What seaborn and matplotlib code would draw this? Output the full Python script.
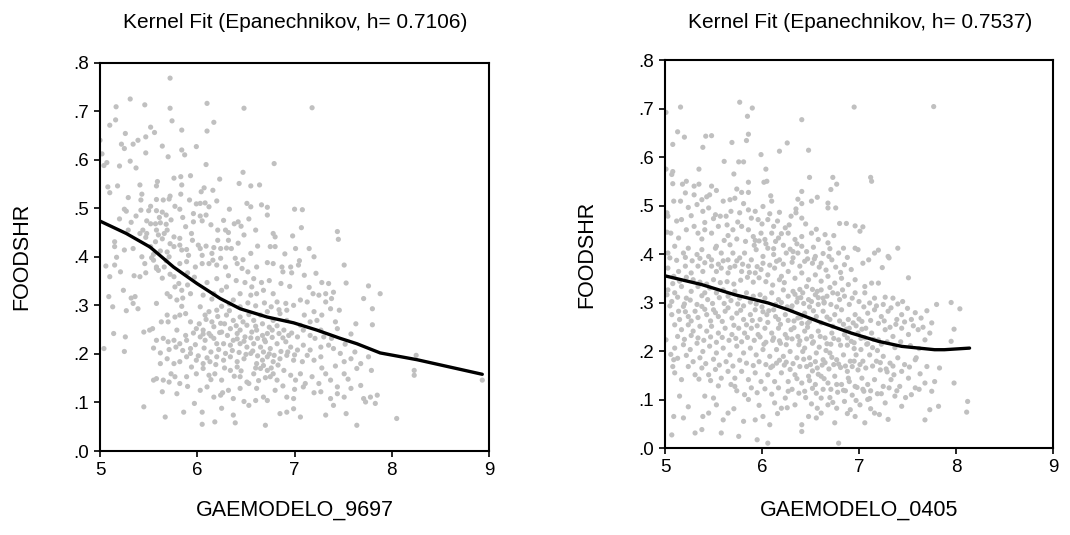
import numpy as np
import pandas as pd
import seaborn as sns
import matplotlib
matplotlib.use("Agg")
import matplotlib.pyplot as plt
from matplotlib.ticker import FuncFormatter

sns.set_style("ticks")
plt.rcParams['font.family'] = ['Liberation Sans', 'DejaVu Sans']
plt.rcParams['text.color'] = 'black'
plt.rcParams['axes.labelcolor'] = 'black'
plt.rcParams['xtick.color'] = 'black'
plt.rcParams['ytick.color'] = 'black'

# --- data ---
titles = ["Kernel Fit (Epanechnikov, h= 0.7106)", "Kernel Fit (Epanechnikov, h= 0.7537)"]
x_labels = ["GAEMODELO_9697", "GAEMODELO_0405"]
y_label = "FOODSHR"
x_ticks = [5, 6, 7, 8, 9]
y_ticks = [0.0, 0.1, 0.2, 0.3, 0.4, 0.5, 0.6, 0.7, 0.8]

# 1996-97 scatter (gaemodelo, foodshr)
pts_9697 = [
    (5.72, .768), (5.31, .725), (5.46, .713), (5.165, .709), (5.72, .706), (6.10, .716), (6.48, .706),
    (7.18, .707), (5.10, .671), (5.16, .682), (5.74, .680), (6.17, .677), (5.52, .667), (5.56, .656),
    (5.26, .654), (5.84, .661), (6.10, .659), (5.0, .64), (5.47, .647), (5.39, .64), (5.34, .632),
    (5.22, .632), (5.64, .628), (5.25, .623), (5.99, .627), (5.47, .614), (5.84, .62), (5.87, .61),
    (5.02, .612), (5.70, .606), (5.31, .597), (5.07, .594), (5.04, .588), (5.2, .587), (5.37, .583),
    (6.09, .59), (6.79, .592), (5.93, .567), (6.47, .574), (6.23, .56), (5.76, .562), (5.83, .565),
    (5.84, .548), (5.59, .555), (5.58, .546), (5.41, .548), (5.18, .546), (5.08, .544), (5.10, .532),
    (6.07, .542), (6.04, .534), (6.16, .537), (6.43, .551), (6.55, .546), (6.64, .548), (5.83, .529),
    (5.29, .522), (5.43, .529), (5.42, .517), (5.58, .518), (5.65, .517), (5.72, .525), (5.71, .519),
    (5.92, .517), (5.99, .509), (6.03, .51), (6.08, .511), (6.12, .503), (6.20, .515), (6.51, .51),
    (6.55, .503), (6.66, .507), (6.72, .502), (5.25, .498), (5.27, .494), (5.52, .504), (5.58, .495),
    (5.77, .504), (5.82, .498), (5.96, .489), (6.33, .498), (7.0, .498), (7.08, .497), (5.50, .495),
    (5.42, .496), (5.37, .484), (5.48, .474), (5.61, .481), (5.68, .486), (5.85, .481), (6.03, .484),
    (6.09, .486), (6.05, .474), (6.42, .472), (6.45, .463), (6.60, .455), (6.72, .486), (7.07, .46),
    (5.57, .468), (5.62, .47), (5.69, .455), (5.66, .448), (5.60, .445), (5.58, .455), (5.48, .448),
    (5.47, .44), (5.41, .448), (5.29, .455), (5.15, .431), (5.76, .441), (5.82, .438), (5.94, .448),
    (5.95, .434), (6.01, .424), (6.03, .417), (6.21, .455), (6.29, .455), (6.32, .45), (6.21, .434),
    (6.32, .434), (6.48, .445), (6.78, .448), (6.80, .441), (6.98, .443), (7.44, .452), (7.45, .436),
    (5.76, .421), (5.82, .424), (5.84, .414), (5.89, .415), (6.09, .422), (6.17, .419), (6.24, .417),
    (6.35, .417), (6.62, .422), (6.75, .421), (6.80, .421), (7.01, .417), (7.15, .417), (5.34, .417),
    (5.25, .414), (5.15, .421), (5.69, .41), (5.71, .4), (5.91, .403), (6.05, .403), (6.15, .407),
    (6.16, .393), (6.24, .397), (6.39, .397), (6.55, .407), (6.47, .394), (7.20, .4), (5.53, .398),
    (5.43, .4), (5.17, .399), (5.06, .381), (5.10, .359), (5.21, .369), (5.15, .383), (5.35, .361),
    (5.41, .359), (5.47, .367), (5.46, .386), (5.55, .393), (5.58, .379), (5.66, .379), (5.58, .376),
    (5.82, .386), (5.89, .39), (5.98, .379), (6.05, .386), (6.12, .386), (6.20, .383), (6.29, .379),
    (6.41, .386), (6.46, .376), (6.52, .369), (6.61, .379), (6.72, .388), (6.78, .386), (6.87, .379),
    (6.96, .379), (7.04, .383), (6.88, .369), (6.97, .367), (7.51, .383), (7.22, .366), (7.35, .345),
    (7.53, .346), (7.76, .34), (7.88, .324), (7.71, .314), (7.80, .293), (7.80, .26), (5.24, .331),
    (5.32, .315), (5.36, .318), (5.34, .304), (5.39, .293), (5.27, .289), (5.09, .318), (5.13, .297),
    (5.58, .304), (5.69, .324), (5.72, .318), (5.77, .338), (5.79, .311), (5.76, .359), (5.81, .345),
    (5.84, .331), (5.90, .342), (5.93, .324), (5.85, .315), (5.84, .298), (5.88, .283), (5.69, .28),
    (5.63, .266), (5.70, .266), (5.77, .276), (5.79, .249), (5.82, .28), (5.93, .266), (6.03, .297),
    (6.12, .287), (6.08, .28), (6.17, .324), (6.25, .331), (6.30, .338), (6.37, .311), (6.44, .324),
    (6.55, .321), (6.61, .324), (6.56, .338), (6.68, .331), (6.78, .324), (6.82, .307), (6.91, .304),
    (6.99, .3), (7.06, .311), (7.13, .307), (7.19, .324), (7.25, .321), (7.32, .324), (7.38, .314),
    (7.32, .307), (7.20, .287), (7.37, .293), (7.42, .266), (7.44, .252), (6.20, .29), (6.30, .28),
    (6.37, .269), (6.44, .276), (6.51, .259), (6.58, .269), (6.65, .28), (6.72, .287), (6.78, .269),
    (6.85, .283), (6.92, .29), (6.92, .269), (7.06, .259), (7.16, .266), (7.23, .269), (7.27, .249),
    (5.99, .252), (6.06, .249), (6.12, .242), (6.17, .256), (6.24, .263), (6.25, .245), (6.34, .252),
    (6.41, .242), (6.44, .249), (6.49, .235), (6.56, .245), (6.61, .249), (6.67, .238), (6.72, .242),
    (6.77, .249), (6.84, .242), (6.89, .249), (6.94, .238), (7.03, .235), (7.09, .249), (7.16, .238),
    (7.21, .232), (7.30, .235), (5.45, .245), (5.51, .249), (5.54, .252), (5.14, .242), (5.26, .235),
    (5.04, .211), (5.25, .205), (5.58, .228), (5.65, .232), (5.70, .225), (5.76, .228), (5.82, .221),
    (5.89, .228), (5.93, .211), (6.03, .235), (6.08, .228), (6.17, .232), (6.20, .221), (6.27, .221),
    (6.34, .218), (6.37, .228), (6.44, .221), (6.51, .214), (6.58, .221), (6.65, .214), (6.70, .225),
    (6.75, .211), (6.82, .221), (6.91, .225), (6.96, .214), (7.03, .208), (7.09, .218), (7.16, .208),
    (7.27, .214), (7.35, .218), (7.40, .211), (7.47, .201), (7.58, .19), (7.68, .18), (7.76, .194),
    (7.51, .184), (7.27, .194), (7.20, .187), (7.13, .197), (7.08, .184), (6.99, .187), (6.92, .197),
    (6.85, .19), (6.78, .184), (6.72, .194), (6.67, .187), (6.61, .18), (6.55, .201), (6.48, .19),
    (6.41, .184), (6.34, .194), (6.27, .187), (6.20, .194), (6.13, .184), (6.06, .18), (5.99, .187),
    (5.89, .194), (5.82, .184), (5.76, .18), (5.69, .19), (5.62, .18), (5.55, .146), (5.58, .149),
    (5.65, .146), (5.73, .159), (5.77, .153), (5.82, .139), (5.89, .153), (5.94, .173), (5.99, .159),
    (6.06, .17), (6.12, .156), (6.18, .159), (6.25, .146), (6.34, .166), (6.41, .173), (6.44, .153),
    (6.51, .142), (6.58, .159), (6.65, .17), (6.72, .166), (6.75, .153), (6.78, .159), (6.82, .146),
    (6.89, .166), (6.96, .156), (7.01, .146), (7.06, .159), (7.11, .139), (7.18, .153), (7.25, .139),
    (7.32, .159), (7.37, .146), (7.44, .132), (7.51, .159), (7.58, .129), (7.64, .17), (7.68, .135),
    (7.79, .166), (8.23, .166), (8.25, .197), (8.23, .156), (8.93, .146), (5.64, .122), (5.79, .118),
    (6.03, .125), (6.10, .132), (6.17, .111), (6.24, .115), (6.32, .125), (6.37, .108), (6.44, .129),
    (6.53, .139), (6.61, .129), (6.68, .111), (6.72, .104), (6.92, .111), (6.99, .108), (7.09, .132),
    (7.27, .122), (7.37, .108), (7.40, .094), (7.44, .118), (7.51, .111), (7.71, .108), (7.73, .101),
    (7.78, .111), (7.85, .115), (7.83, .098), (5.45, .091), (5.67, .07), (5.86, .08), (6.05, .08),
    (6.05, .055), (6.18, .06), (6.37, .074), (6.39, .058), (6.53, .094), (6.60, .104), (6.70, .053),
    (6.85, .077), (6.92, .08), (6.99, .087), (7.06, .07), (7.32, .074), (7.53, .077), (7.64, .053),
    (8.05, .067), (6.80, .125),
    # denser middle of the cloud
    (6.02, .262), (6.09, .271), (6.15, .266), (6.21, .277), (6.28, .262), (6.33, .289), (6.4, .258),
    (6.47, .266), (6.53, .281), (6.6, .257), (6.67, .262), (6.74, .255), (6.82, .258), (6.88, .233),
    (6.97, .243), (6.55, .233), (6.48, .226), (6.41, .231), (6.31, .238), (6.23, .244), (6.14, .237),
    (6.06, .241), (5.96, .243), (5.88, .238), (6.62, .232), (6.69, .229), (6.77, .234), (6.57, .206),
    (6.5, .199), (6.43, .203), (6.36, .207), (6.29, .201), (6.22, .209), (6.14, .204), (6.07, .212),
    (5.98, .219), (6.62, .196), (6.68, .204), (6.74, .2), (6.79, .197), (6.86, .205), (6.93, .204),
    (7.0, .198), (6.6, .171), (6.68, .176), (6.76, .171), (6.83, .177), (6.7, .151), (6.63, .145),
    (6.45, .165), (6.38, .154), (6.28, .171), (6.19, .178), (6.1, .192), (6.01, .196), (5.93, .201),
    (5.85, .207), (5.78, .214), (5.71, .209), (5.62, .202), (5.55, .212), (6.25, .298), (6.33, .303),
    (6.44, .297), (6.52, .305), (6.6, .299), (6.69, .305), (6.76, .297), (6.84, .291), (6.15, .313),
    (6.06, .321), (6.1, .347), (6.2, .355), (6.32, .361), (6.4, .351), (6.49, .347), (6.58, .355),
    (6.66, .347), (6.74, .351), (6.86, .345), (6.95, .339), (5.97, .358), (5.9, .367), (5.72, .364),
    (5.64, .356), (5.6, .372), (5.68, .392), (5.62, .412), (5.52, .421), (5.57, .431), (5.64, .437),
    (5.72, .427), (5.55, .405), (5.68, .467), (5.73, .476), (5.64, .492), (5.52, .468), (5.44, .455),
    (5.32, .471), (5.2, .478), (5.88, .462), (5.96, .472), (6.14, .466), (6.27, .475), (6.38, .468),
    (6.53, .478), (6.3, .418), (6.42, .428), (6.9, .406), (7.05, .392), (7.1, .362), (7.28, .347),
    (7.15, .337), (7.4, .327), (7.1, .28), (7.28, .28), (7.46, .29), (7.58, .241), (7.63, .262),
    (7.38, .232), (7.52, .22), (7.62, .204), (7.28, .171), (7.42, .175), (7.55, .148), (7.2, .12),
    (7.0, .127), (6.88, .134), (6.26, .12), (6.14, .147), (5.9, .133), (5.71, .142), (5.97, .098),
    (6.48, .102), (6.25, .088),
]

# 2004-05 scatter (gaemodelo, foodshr)
pts_0405 = [
    (5.77, .713), (5.90, .701), (5.16, .703), (5.01, .692), (5.85, .684), (6.95, .703), (7.77, .704),
    (6.41, .677), (5.13, .652), (5.20, .641), (5.42, .643), (5.48, .644), (5.86, .647), (5.84, .634),
    (5.08, .626), (5.39, .62), (6.26, .629), (6.18, .612), (6.48, .614), (5.69, .63), (5.99, .605),
    (5.61, .591), (5.76, .59), (5.81, .59), (5.01, .575), (5.35, .575), (6.04, .575), (5.71, .565),
    (5.07, .564), (5.08, .57), (6.49, .558), (7.12, .558), (7.13, .55), (6.02, .548), (6.05, .55),
    (6.73, .558), (5.86, .548), (5.08, .545), (5.18, .544), (5.22, .55), (5.30, .54), (5.35, .544),
    (5.48, .54), (5.53, .531), (5.74, .534), (5.79, .527), (5.86, .527), (6.77, .544), (6.71, .533),
    (6.41, .529), (6.57, .517), (6.68, .505), (6.68, .495), (6.76, .495), (6.51, .509), (6.37, .513),
    (6.41, .504), (6.09, .52), (6.10, .509), (6.01, .498), (5.09, .509), (5.16, .509), (5.21, .526),
    (5.30, .522), (5.38, .512), (5.43, .518), (5.46, .522), (5.60, .509), (5.67, .512), (5.72, .515),
    (5.81, .504), (5.86, .491), (6.18, .486), (6.30, .478), (6.35, .485), (6.35, .493), (6.41, .474),
    (5.24, .496), (5.33, .502), (5.39, .488), (5.45, .495), (5.52, .481), (5.57, .478), (5.63, .478),
    (5.77, .485), (5.93, .488), (5.96, .471), (6.06, .471), (6.12, .457), (6.24, .454), (6.65, .44),
    (6.80, .463), (6.87, .463), (6.96, .458), (7.04, .456), (7.01, .447), (5.02, .485), (5.03, .478),
    (5.17, .471), (5.02, .445), (5.06, .443), (5.14, .433), (5.22, .45), (5.30, .457), (5.34, .443),
    (5.41, .45), (5.48, .443), (5.55, .457), (5.64, .46), (5.70, .45), (5.79, .457), (5.86, .45),
    (5.91, .436), (5.99, .443), (6.03, .43), (6.10, .443), (6.17, .433), (6.27, .443), (6.34, .43),
    (6.41, .436), (6.51, .443), (6.58, .43), (6.68, .423), (6.41, .416), (6.84, .412), (6.96, .412),
    (6.99, .409), (7.20, .408), (7.16, .402), (7.40, .412), (7.30, .395), (7.31, .392), (5.03, .402),
    (5.10, .416), (5.19, .402), (5.24, .412), (5.33, .399), (5.38, .409), (5.45, .395), (5.53, .416),
    (5.58, .402), (5.65, .388), (5.70, .402), (5.77, .392), (5.82, .402), (5.89, .388), (5.94, .409),
    (6.01, .395), (6.06, .412), (6.12, .399), (6.18, .388), (6.25, .402), (6.32, .392), (6.37, .402),
    (6.44, .385), (6.55, .395), (6.61, .381), (6.72, .388), (6.79, .402), (6.85, .378), (6.92, .368),
    (7.04, .381), (5.03, .371), (5.09, .354), (5.14, .364), (5.21, .375), (5.27, .361), (5.34, .375),
    (5.39, .364), (5.48, .375), (5.53, .364), (5.58, .371), (5.65, .361), (5.72, .375), (5.79, .364),
    (5.86, .375), (5.93, .361), (5.99, .368), (6.06, .357), (6.13, .371), (6.20, .354), (6.27, .364),
    (6.34, .35), (6.41, .361), (6.48, .347), (6.55, .357), (6.61, .344), (6.68, .354), (6.75, .34),
    (6.82, .35), (6.89, .337), (6.96, .347), (7.06, .333), (7.13, .34), (7.20, .34), (7.51, .351),
    (5.03, .326), (5.02, .316), (5.10, .32), (5.17, .333), (5.22, .309), (5.27, .323), (5.34, .333),
    (5.41, .32), (5.46, .33), (5.53, .32), (5.60, .326), (5.65, .313), (5.72, .323), (5.77, .309),
    (5.84, .32), (5.91, .313), (5.98, .316), (6.03, .309), (6.10, .32), (6.17, .306), (6.22, .326),
    (6.27, .313), (6.32, .323), (6.37, .309), (6.42, .32), (6.48, .306), (6.55, .316), (6.61, .326),
    (6.67, .313), (6.73, .32), (6.80, .306), (6.85, .313), (6.96, .32), (7.06, .32), (7.16, .309),
    (7.25, .296), (7.35, .309), (7.45, .302), (7.80, .296), (7.95, .3), (8.04, .287), (5.05, .293),
    (5.07, .275), (5.14, .282), (5.19, .292), (5.24, .271), (5.31, .282), (5.38, .292), (5.43, .275),
    (5.50, .285), (5.55, .271), (5.62, .282), (5.69, .268), (5.74, .278), (5.81, .265), (5.88, .275),
    (5.93, .285), (5.98, .265), (6.05, .275), (6.12, .285), (6.17, .265), (6.24, .275), (6.30, .285),
    (6.37, .268), (6.44, .278), (6.49, .261), (6.56, .271), (6.63, .282), (6.70, .265), (6.75, .275),
    (6.82, .285), (6.89, .265), (6.96, .275), (7.03, .261), (7.09, .278), (7.16, .285), (7.23, .271),
    (7.30, .282), (7.39, .265), (7.44, .275), (7.54, .265), (7.64, .268), (7.75, .258), (7.98, .245),
    (7.95, .22), (5.10, .254), (5.17, .244), (5.24, .254), (5.29, .241), (5.36, .251), (5.43, .241),
    (5.48, .251), (5.55, .237), (5.62, .247), (5.69, .234), (5.76, .247), (5.82, .237), (5.89, .247),
    (5.96, .234), (6.03, .247), (6.10, .237), (6.17, .247), (6.24, .234), (6.30, .244), (6.37, .23),
    (6.44, .241), (6.51, .23), (6.58, .241), (6.65, .227), (6.72, .237), (6.79, .223), (6.85, .234),
    (6.92, .22), (6.99, .237), (7.06, .227), (7.13, .237), (7.20, .223), (7.27, .244), (7.35, .23),
    (7.44, .247), (7.51, .234), (7.61, .244), (7.68, .223), (7.73, .237), (5.01, .223), (5.10, .206),
    (5.19, .213), (5.26, .203), (5.33, .216), (5.39, .199), (5.46, .21), (5.53, .196), (5.60, .206),
    (5.67, .192), (5.74, .21), (5.81, .196), (5.88, .206), (5.94, .192), (6.01, .203), (6.08, .189),
    (6.15, .203), (6.22, .189), (6.29, .199), (6.36, .186), (6.42, .199), (6.49, .186), (6.56, .196),
    (6.63, .182), (6.70, .196), (6.77, .182), (6.84, .192), (6.91, .179), (6.97, .192), (7.04, .179),
    (7.11, .192), (7.18, .179), (7.25, .189), (7.32, .175), (7.40, .186), (7.47, .172), (7.58, .182),
    (7.70, .168), (7.83, .165), (7.59, .186), (5.09, .182), (5.08, .168), (5.10, .155), (5.17, .141),
    (5.24, .168), (5.31, .151), (5.38, .165), (5.45, .151), (5.52, .162), (5.58, .144), (5.65, .158),
    (5.72, .144), (5.79, .158), (5.86, .141), (5.93, .155), (5.99, .137), (6.06, .151), (6.13, .137),
    (6.20, .155), (6.27, .137), (6.34, .151), (6.41, .134), (6.48, .148), (6.55, .131), (6.61, .148),
    (6.68, .134), (6.75, .148), (6.82, .131), (6.89, .144), (6.96, .127), (7.03, .144), (7.09, .131),
    (7.16, .141), (7.25, .127), (7.33, .141), (7.42, .127), (7.51, .144), (7.58, .124), (7.68, .134),
    (7.75, .117), (7.78, .137), (5.15, .107), (5.19, .062), (5.09, .065), (5.07, .027), (5.31, .031),
    (5.38, .038), (5.39, .065), (5.45, .072), (5.41, .107), (5.53, .089), (5.58, .031), (5.60, .058),
    (5.65, .072), (5.72, .127), (5.76, .024), (5.81, .055), (5.82, .11), (5.86, .1), (5.93, .058),
    (5.95, .017), (6.01, .065), (6.06, .01), (6.08, .048), (6.13, .093), (6.20, .082), (6.27, .117),
    (6.34, .089), (6.41, .048), (6.41, .034), (6.48, .065), (6.56, .062), (6.61, .072), (6.61, .103),
    (6.68, .089), (6.75, .052), (6.77, .082), (6.79, .01), (6.85, .096), (6.91, .079), (6.96, .065),
    (7.01, .089), (7.06, .052), (7.09, .1), (7.16, .072), (7.21, .069), (7.27, .093), (7.37, .107),
    (7.44, .086), (7.54, .11), (7.68, .058), (7.73, .079), (7.82, .086), (8.11, .074), (8.12, .096),
    (7.98, .134),
    # denser middle of the cloud
    (6.33, .262), (6.41, .257), (6.47, .249), (6.52, .216), (6.59, .208), (6.66, .201), (6.71, .214),
    (6.44, .206), (6.38, .213), (6.55, .178), (6.62, .171), (6.69, .163), (6.74, .172), (6.81, .166),
    (6.88, .158), (6.93, .168), (6.99, .161), (6.46, .168), (6.52, .159), (6.58, .152), (6.64, .143),
    (6.71, .121), (6.78, .115), (6.86, .118), (6.93, .109), (6.52, .123), (6.44, .117), (6.36, .143),
    (6.29, .162), (6.23, .171), (6.15, .175), (6.09, .166), (6.02, .214), (6.11, .222), (6.19, .216),
    (6.26, .227), (6.31, .293), (6.36, .301), (6.43, .298), (6.49, .291), (6.58, .296), (6.64, .299),
    (6.23, .341), (6.18, .347), (6.11, .336), (6.04, .343), (5.97, .351), (5.91, .342), (5.85, .352),
    (5.78, .346), (5.71, .338), (5.64, .343), (5.57, .341), (5.50, .347), (5.43, .338), (5.36, .342),
    (5.29, .347), (5.22, .352), (5.15, .344), (5.08, .339), (6.39, .327), (6.46, .333), (6.52, .327),
    (6.58, .31), (6.64, .301), (6.71, .296), (6.77, .291), (6.84, .255), (6.9, .247), (6.97, .252),
    (7.03, .245), (7.08, .214), (7.14, .207), (7.19, .201), (7.02, .203), (6.95, .205), (6.88, .212),
    (7.22, .161), (7.29, .157), (7.36, .151), (7.12, .118), (7.19, .112), (7.05, .117), (6.98, .125),
    (5.52, .412), (5.61, .428), (5.67, .419), (5.74, .431), (5.83, .426), (5.92, .418), (5.97, .427),
    (6.04, .421), (6.14, .426), (6.22, .418), (6.29, .41), (6.36, .421), (6.46, .405), (6.53, .414),
    (6.63, .401), (6.69, .395), (6.76, .373), (6.81, .362), (6.66, .367), (6.59, .373), (6.52, .381),
    (6.47, .39), (6.39, .375), (6.31, .383), (6.22, .379), (6.15, .385), (6.08, .377), (6.01, .381),
    (5.95, .374), (5.87, .362), (5.8, .379), (5.74, .386), (5.67, .372), (5.6, .386), (5.55, .379),
    (5.48, .388), (5.41, .382), (5.36, .391), (5.28, .386), (5.21, .393), (5.12, .387), (5.05, .392),
    (5.07, .302), (5.13, .311), (5.2, .297), (5.26, .305), (5.33, .296), (5.38, .314), (5.44, .306),
    (5.49, .298), (5.56, .31), (5.61, .298), (5.68, .304), (5.75, .297), (5.81, .293), (5.88, .301),
    (5.94, .297), (6.0, .291), (6.07, .283), (6.14, .296), (6.2, .3), (6.26, .291), (6.34, .317),
    (6.4, .31), (6.51, .302), (6.57, .323), (6.63, .309), (6.7, .331), (6.78, .318), (6.83, .326),
    (6.9, .296), (6.93, .309), (7.0, .302), (7.05, .291), (7.11, .299), (7.18, .293), (7.27, .311),
    (7.33, .289), (7.4, .297), (7.5, .288), (7.58, .279), (7.7, .283),
    (5.15, .265), (5.21, .281), (5.27, .262), (5.34, .269), (5.41, .286), (5.47, .262), (5.52, .279),
    (5.59, .261), (5.65, .289), (5.71, .253), (5.78, .284), (5.84, .254), (5.9, .263), (5.95, .252),
    (6.01, .281), (6.06, .259), (6.14, .271), (6.19, .255), (6.27, .263), (6.33, .248), (6.4, .27),
    (6.47, .257), (6.53, .283), (6.61, .258), (6.67, .27), (6.73, .251), (6.8, .262), (6.87, .245),
    (6.94, .258), (7.0, .266), (7.07, .247), (7.12, .263), (7.2, .257), (7.26, .262), (7.32, .249),
    (7.38, .255), (7.47, .26), (7.56, .252), (7.66, .249),
    (5.13, .23), (5.2, .224), (5.27, .232), (5.34, .227), (5.4, .222), (5.47, .229), (5.53, .218),
    (5.59, .228), (5.66, .222), (5.73, .226), (5.79, .219), (5.85, .228), (5.92, .222), (5.98, .229),
    (6.04, .218), (6.12, .227), (6.18, .221), (6.25, .213), (6.31, .225), (6.39, .221), (6.46, .225),
    (6.53, .219), (6.6, .23), (6.67, .215), (6.74, .226), (6.81, .212), (6.88, .227), (6.95, .217),
    (7.02, .226), (7.09, .215), (7.15, .224), (7.23, .214), (7.29, .219), (7.37, .207), (7.43, .219),
    (7.53, .211), (7.62, .205),
    (5.06, .193), (5.13, .185), (5.22, .191), (5.29, .178), (5.36, .186), (5.42, .174), (5.5, .183),
    (5.56, .171), (5.63, .178), (5.7, .169), (5.77, .181), (5.84, .175), (5.91, .17), (5.97, .178),
    (6.04, .172), (6.11, .169), (6.18, .181), (6.25, .177), (6.32, .174), (6.39, .168), (6.43, .183),
    (6.5, .172), (6.57, .165), (6.65, .176), (6.72, .187), (6.79, .173), (6.86, .169), (6.95, .179),
    (7.01, .172), (7.07, .165), (7.14, .169), (7.22, .176), (7.28, .163), (7.35, .169), (7.44, .158),
    (7.52, .167), (7.63, .153),
    (5.35, .142), (5.47, .139), (5.55, .128), (5.68, .131), (5.74, .118), (5.89, .124), (5.95, .114),
    (6.03, .122), (6.1, .111), (6.17, .124), (6.24, .103), (6.31, .121), (6.38, .113), (6.45, .104),
    (6.49, .139), (6.56, .113), (6.63, .121), (6.7, .104), (6.77, .131), (6.84, .119), (6.9, .137),
    (6.97, .098), (7.04, .121), (7.11, .102), (7.23, .112), (7.31, .124), (7.39, .118), (7.48, .104),
    (7.62, .121), (5.24, .085), (5.5, .103), (5.71, .081), (5.97, .088), (6.16, .071), (6.26, .083),
    (6.51, .091), (6.57, .082), (6.73, .094), (6.88, .071), (7.12, .081), (7.3, .059),
    (5.12, .468), (5.27, .479), (5.41, .465), (5.5, .473), (5.68, .488), (5.75, .466), (5.89, .474),
    (6.0, .462), (6.08, .483), (6.16, .468), (6.28, .46), (6.45, .462), (6.56, .451), (6.74, .438),
    (6.2, .442), (5.65, .438), (5.38, .431), (5.93, .428), (6.12, .411), (6.32, .405), (6.54, .39),
    (6.7, .411), (6.88, .393), (7.1, .388), (7.24, .372),
]

# kernel fit curves
fit_9697_x = [5.0, 5.27, 5.515, 5.755, 5.996, 6.236, 6.44, 6.717, 6.99, 7.23, 7.47, 7.64, 7.88, 8.26, 8.93]
fit_9697_y = [.4735, .448, .42, .379, .345, .314, .293, .276, .264, .249, .232, .221, .202, .188, .158]
fit_0405_x = [5.0, 5.378, 5.72, 6.064, 6.27, 6.58, 6.92, 7.2, 7.44, 7.78, 7.88, 8.14]
fit_0405_y = [.355, .337, .316, .299, .285, .261, .237, .22, .2096, .2027, .2027, .206]

panels = [
    (pts_9697, fit_9697_x, fit_9697_y),
    (pts_0405, fit_0405_x, fit_0405_y),
]

fig = plt.figure(figsize=(10.7, 5.35), dpi=100)
rects = [[0.0935, 0.157, 0.3636, 0.726], [0.6215, 0.1626, 0.3626, 0.7252]]
title_x = [0.2757, 0.8037]
xlabel_y = [-0.125, -0.133]

fmt = FuncFormatter(lambda v, pos: f"{v:.1f}".lstrip("0"))

for i, (pts, fx, fy) in enumerate(panels):
    ax = fig.add_axes(rects[i])
    df = pd.DataFrame(pts, columns=["x", "y"])
    sns.scatterplot(data=df, x="x", y="y", ax=ax, color="#c0c0c0", s=14,
                    edgecolor="none", linewidth=0, zorder=2)
    fit = pd.DataFrame({"x": fx, "y": fy})
    sns.lineplot(data=fit, x="x", y="y", ax=ax, color="black", linewidth=2.4,
                 sort=False, zorder=3)

    ax.set_xlim(5, 9)
    ax.set_ylim(0, 0.8)
    ax.set_xticks(x_ticks)
    ax.set_yticks(y_ticks)
    ax.yaxis.set_major_formatter(fmt)
    ax.tick_params(axis="both", direction="out", length=4, width=1.2,
                   labelsize=13.5, color="black", labelcolor="black", pad=4)
    for sp in ax.spines.values():
        sp.set_visible(True)
        sp.set_linewidth(1.5)
        sp.set_color("black")

    ax.set_xlabel(x_labels[i], fontsize=15.5, color="black")
    ax.set_ylabel(y_label, fontsize=15.5, color="black")
    ax.xaxis.set_label_coords(0.5, xlabel_y[i])
    ax.yaxis.set_label_coords(-0.175, 0.5)

    fig.text(title_x[i], 1 - 23 / 535, titles[i], ha="center", va="center",
             fontsize=15, color="black")

fig.savefig("out.png", dpi=100)
